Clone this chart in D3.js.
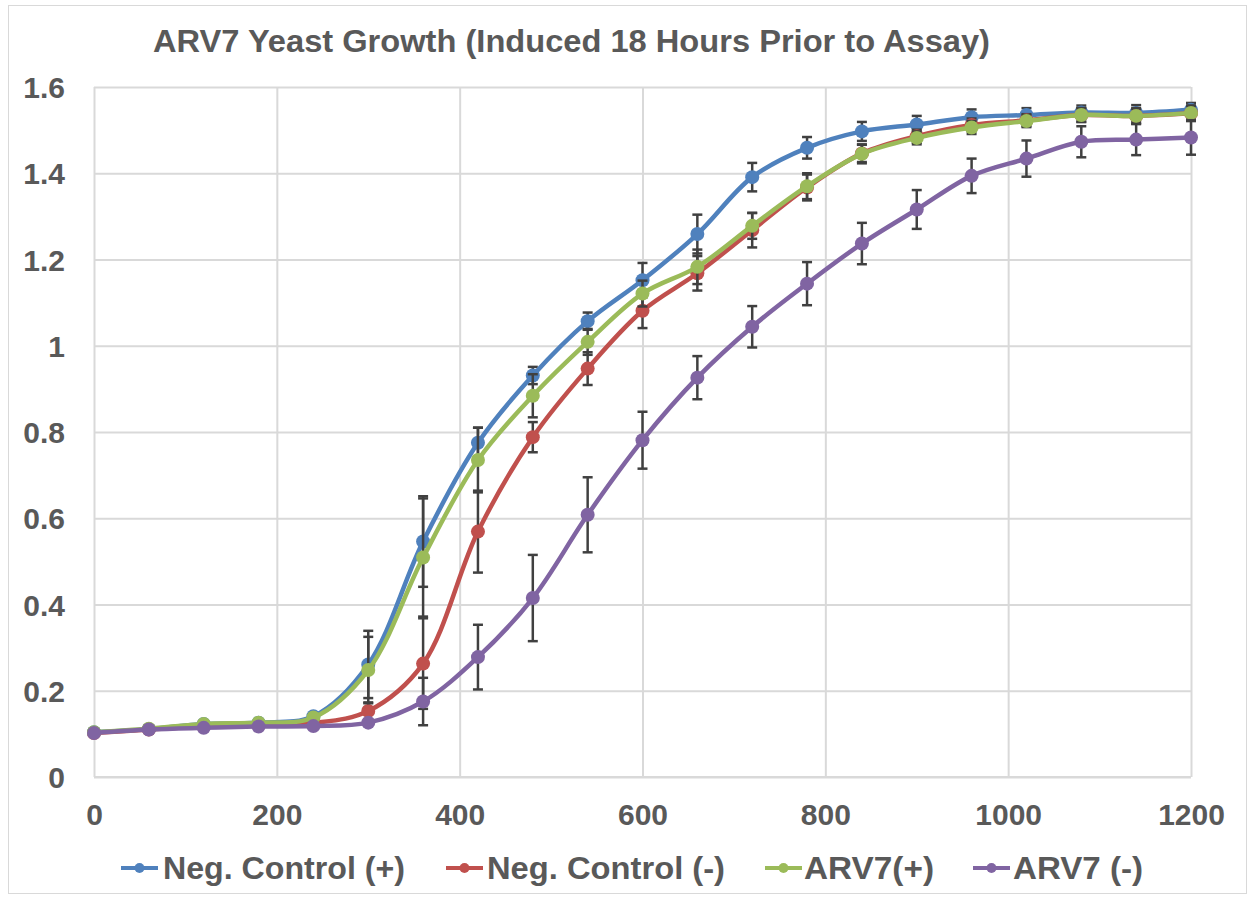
<!DOCTYPE html>
<html><head><meta charset="utf-8">
<script src="https://cdn.jsdelivr.net/npm/d3@7"></script>
<style>body{margin:0;background:#fff;}svg{display:block;}</style>
</head><body>
<svg id="chart" width="1250" height="897"></svg>
<script>
const times = [0,60,120,180,240,300,360,420,480,540,600,660,720,780,840,900,960,1020,1080,1140,1200];
const negCtrlPlus  = [0.104,0.111,0.123,0.126,0.141,0.261,0.546,0.775,0.931,1.057,1.152,1.259,1.391,1.459,1.497,1.513,1.530,1.535,1.541,1.540,1.547];
const negCtrlMinus = [0.102,0.110,0.117,0.120,0.125,0.153,0.263,0.569,0.788,0.947,1.081,1.168,1.268,1.367,1.446,1.486,1.512,1.523,1.535,1.533,1.539];
const arv7Plus     = [0.104,0.112,0.123,0.126,0.138,0.248,0.509,0.735,0.884,1.009,1.121,1.183,1.278,1.370,1.445,1.482,1.506,1.521,1.535,1.533,1.540];
const arv7Minus    = [0.102,0.110,0.114,0.117,0.118,0.126,0.175,0.278,0.415,0.608,0.781,0.926,1.044,1.144,1.237,1.316,1.394,1.434,1.473,1.478,1.483];
const errNegPlus   = [0.004,0.004,0.005,0.005,0.008,0.078,0.105,0.035,0.020,0.020,0.040,0.045,0.033,0.025,0.022,0.020,0.018,0.016,0.016,0.018,0.016];
const errNegMinus  = [0.004,0.004,0.005,0.005,0.006,0.020,0.105,0.095,0.035,0.038,0.040,0.040,0.040,0.030,0.020,0.015,0.015,0.014,0.016,0.016,0.018];
const errArvPlus   = [0.004,0.004,0.005,0.005,0.008,0.077,0.137,0.075,0.050,0.030,0.030,0.040,0.030,0.030,0.022,0.015,0.015,0.014,0.016,0.018,0.016];
const errArvMinus  = [0.004,0.004,0.004,0.005,0.005,0.006,0.055,0.075,0.100,0.087,0.066,0.050,0.048,0.050,0.048,0.045,0.040,0.042,0.036,0.036,0.040];
const seriesNames  = ["Neg. Control (+)","Neg. Control (-)","ARV7(+)","ARV7 (-)"];
const seriesColors = ["#4F81BD","#C0504D","#9BBB59","#8064A2"];
const xTicks = [0,200,400,600,800,1000,1200];
const yTicks = [0,0.2,0.4,0.6,0.8,1,1.2,1.4,1.6];
const titleText = "ARV7 Yeast Growth (Induced 18 Hours Prior to Assay)";

const seriesVals = [negCtrlPlus,negCtrlMinus,arv7Plus,arv7Minus];
const seriesErr = [errNegPlus,errNegMinus,errArvPlus,errArvMinus];

const svg = d3.select("#chart");
const m={left:94,right:1191,top:87,bottom:777};
const x=d3.scaleLinear().domain([0,1200]).range([m.left,m.right]);
const y=d3.scaleLinear().domain([0,1.6]).range([m.bottom,m.top]);
const txt="#595959", grid="#d9d9d9", font="Arial, 'Liberation Sans', sans-serif";

// outer border
svg.append("rect").attr("x",8.5).attr("y",5.5).attr("width",1238).attr("height",888)
  .attr("fill","none").attr("stroke","#d9d9d9").attr("stroke-width",1);

// title
svg.append("text").attr("x",153).attr("y",52)
  .attr("font-family",font).attr("font-weight","bold").attr("font-size",31)
  .attr("fill",txt).attr("textLength",837).attr("lengthAdjust","spacingAndGlyphs").text(titleText);

// grid
const gy=d3.axisLeft(y).tickValues(yTicks).tickSize(-(m.right-m.left)).tickFormat("");
svg.append("g").attr("transform",`translate(${m.left},0)`).call(gy)
  .call(g=>{g.select(".domain").remove();g.selectAll("line").attr("stroke",grid).attr("stroke-width",2);});
const gx=d3.axisBottom(x).tickValues(xTicks).tickSize(-(m.bottom-m.top)).tickFormat("");
svg.append("g").attr("transform",`translate(0,${m.bottom})`).call(gx)
  .call(g=>{g.select(".domain").remove();g.selectAll("line").attr("stroke",grid).attr("stroke-width",2);});

// axis labels
const ya=d3.axisLeft(y).tickValues(yTicks).tickSize(0).tickPadding(29).tickFormat(d=>String(+d.toFixed(1)));
svg.append("g").attr("transform",`translate(${m.left},0)`).call(ya)
  .call(g=>{g.select(".domain").remove();g.selectAll("text").attr("font-family",font).attr("font-weight","bold").attr("font-size",30).attr("fill",txt).attr("dy","0.35em");});
const xa=d3.axisBottom(x).tickValues(xTicks).tickSize(0).tickPadding(27).tickFormat(d3.format("d"));
svg.append("g").attr("transform",`translate(0,${m.bottom})`).call(xa)
  .call(g=>{g.select(".domain").remove();g.selectAll("text").attr("font-family",font).attr("font-weight","bold").attr("font-size",30).attr("fill",txt);});

svg.append("line").attr("x1",m.left).attr("x2",m.right).attr("y1",m.bottom).attr("y2",m.bottom).attr("stroke",grid).attr("stroke-width",2);

const line=d3.line().x((d,i)=>x(times[i])).y(d=>y(d)).curve(d3.curveCatmullRom.alpha(0.5));

seriesVals.forEach((vals,s)=>{
  const g=svg.append("g");
  const eb=g.append("g");
  vals.forEach((v,i)=>{
    const e=seriesErr[s][i]; if(e<0.01) return;
    const cx=x(times[i]);
    eb.append("line").attr("x1",cx).attr("x2",cx).attr("y1",y(v-e)).attr("y2",y(v+e)).attr("stroke","#404040").attr("stroke-width",2.5);
    [v-e,v+e].forEach(t=>eb.append("line").attr("x1",cx-5).attr("x2",cx+5).attr("y1",y(t)).attr("y2",y(t)).attr("stroke","#404040").attr("stroke-width",2.5));
  });
  g.append("path").datum(vals).attr("d",line).attr("fill","none").attr("stroke",seriesColors[s]).attr("stroke-width",4.5);
  g.selectAll("circle").data(vals).join("circle").attr("cx",(d,i)=>x(times[i])).attr("cy",d=>y(d)).attr("r",7).attr("fill",seriesColors[s]);
});

// legend
const legX=[121,446,765,973];
const legTextX=[163,487,804,1013];
const legW=[242,238,130,130];
const leg=svg.append("g");
seriesNames.forEach((n,s)=>{
  const lx=legX[s], ly=868;
  leg.append("line").attr("x1",lx).attr("x2",lx+37).attr("y1",ly).attr("y2",ly).attr("stroke",seriesColors[s]).attr("stroke-width",4);
  leg.append("circle").attr("cx",lx+18.5).attr("cy",ly).attr("r",5).attr("fill",seriesColors[s]);
  leg.append("text").attr("x",legTextX[s]).attr("y",879).attr("font-family",font).attr("font-weight","bold").attr("font-size",31)
    .attr("fill",txt).attr("textLength",legW[s]).attr("lengthAdjust","spacingAndGlyphs").text(n);
});
</script>
</body></html>
